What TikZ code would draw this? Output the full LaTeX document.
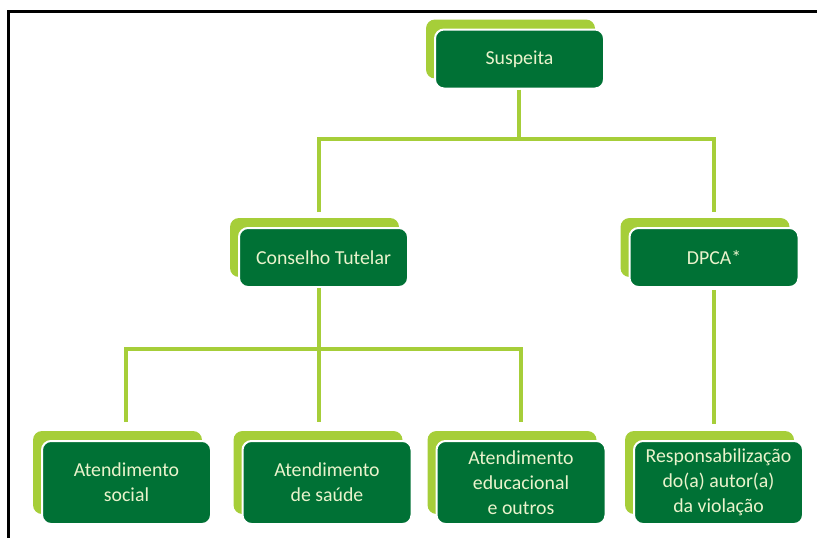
\documentclass[tikz,border=0pt]{standalone}
\usepackage{fontspec}
\setmainfont{Carlito}
\usetikzlibrary{shadows}
\definecolor{dkgreen}{HTML}{007135}
\definecolor{ltgreen}{HTML}{A6CE39}
\definecolor{txtcol}{HTML}{EAF3CC}
\tikzset{
  x=1pt, y=-1pt,
  gbox/.style={rectangle, rounded corners=9pt, fill=dkgreen, draw=white, line width=2pt,
    text=txtcol, font=\fontsize{19.8}{25}\selectfont, align=center,
    minimum width=169pt, inner sep=0pt,
    copy shadow={shadow xshift=-9pt, shadow yshift=10pt, fill=ltgreen, draw=none}},
  topbox/.style={gbox, minimum height=59pt},
  botbox/.style={gbox, minimum height=83pt},
  conn/.style={draw=ltgreen, line width=4.5pt},
  frame/.style={draw=black, line width=3pt}
}
\begin{document}
\begin{tikzpicture}
\useasboundingbox (0,0) rectangle (817,538);
\coordinate (fa) at (817,11);
\coordinate (fb) at (8,11);
\coordinate (fc) at (8,538);
\draw[frame] (fa) -- (fb) -- (fc);

\node[topbox] (susp) at (519.5,59) {Suspeita};
\node[topbox] (cons) at (323.5,257.5) {Conselho Tutelar};
\node[topbox] (dpca) at (714,257.5) {DPCA*};
\node[botbox] (soc) at (126.5,482.5) {Atendimento\\social};
\node[botbox] (sau) at (327,482.5) {Atendimento\\de saúde};
\node[botbox] (edu) at (521,482.5) {Atendimento\\educacional\\e outros};
\node[botbox] (resp) at (718.5,482.5) {Responsabilização\\do(a) autor(a)\\da violação};

% level 1
\coordinate (h1) at (519,139);
\coordinate (h1l) at (319,139);
\coordinate (h1r) at (714,139);
\coordinate (e1l) at (319,212);
\coordinate (e1r) at (714,212);
\draw[conn] (susp.south -| h1) -- (h1);
\draw[conn] (e1l) -- (h1l) -- (h1r) -- (e1r);

% level 2 (Conselho)
\coordinate (h2) at (319,349);
\coordinate (h2l) at (126,349);
\coordinate (h2r) at (521,349);
\coordinate (e2l) at (126,422);
\coordinate (e2m) at (319,422);
\coordinate (e2r) at (521,422);
\draw[conn] (cons.south -| h2) -- (e2m);
\draw[conn] (e2l) -- (h2l) -- (h2r) -- (e2r);

% DPCA
\coordinate (e3) at (714,424);
\draw[conn] ([yshift=-2pt]dpca.south -| e3) -- (e3);
\end{tikzpicture}
\end{document}
